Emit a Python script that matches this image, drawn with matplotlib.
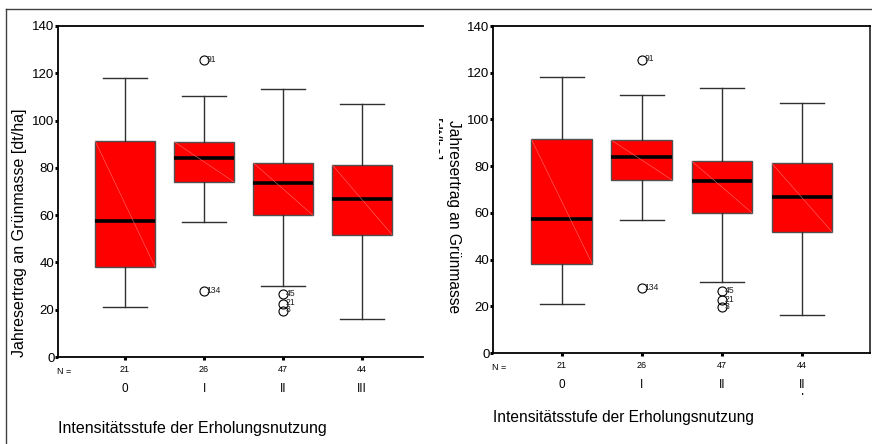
import matplotlib
matplotlib.use("Agg")
import matplotlib.pyplot as plt
from matplotlib.lines import Line2D
from matplotlib.patches import Rectangle

plt.rcParams['font.family'] = ['Liberation Sans', 'DejaVu Sans']

# Summary statistics per intensity level
groups = ["0", "I", "II", "III"]
n_counts = [21, 26, 47, 44]
whis_hi = [118.0, 110.5, 113.4, 107.1]
q3 = [91.5, 91.1, 82.2, 81.3]
medians = [57.4, 84.0, 73.5, 66.7]
q1 = [38.1, 74.0, 59.9, 51.7]
whis_lo = [21.0, 57.1, 30.2, 16.2]
outlier_vals = [[], [125.6, 27.8], [26.5, 22.6, 19.6], []]
outlier_ids = [[], ["91", "134"], ["45", "21", "3"], []]

y_ticks = [0, 20, 40, 60, 80, 100, 120, 140]
ylabel = "Jahresertrag an Grünmasse [dt/ha]"
xlabel = "Intensitätsstufe der Erholungsnutzung"

W, H = 872, 444
fig = plt.figure(figsize=(W / 100, H / 100), dpi=100)


def fx(px):
    return px / W


def fy(py):
    return 1 - py / H


def make_axes(left, top, right, bottom):
    return fig.add_axes([fx(left), fy(bottom), fx(right - left), (bottom - top) / H])


def draw_panel(ax, xlim, frame_right, last_label=None):
    pos = [1, 2, 3, 4]
    stats = []
    for i in range(4):
        stats.append(dict(med=medians[i], q1=q1[i], q3=q3[i],
                          whislo=whis_lo[i], whishi=whis_hi[i],
                          fliers=outlier_vals[i]))
    ax.bxp(stats, positions=pos, widths=0.76, patch_artist=True,
           showfliers=True,
           boxprops=dict(facecolor="#ff0000", edgecolor="#505050", linewidth=1.0),
           medianprops=dict(color="black", linewidth=2.6, solid_capstyle="butt"),
           whiskerprops=dict(color="#303030", linewidth=1.0),
           capprops=dict(color="#303030", linewidth=1.0),
           capwidths=0.55,
           flierprops=dict(marker="o", markersize=6.5, markerfacecolor="none",
                           markeredgecolor="black", markeredgewidth=0.8))
    # faint diagonal seams inside the filled boxes
    for i, p in enumerate(pos):
        ax.plot([p - 0.38, p + 0.38], [q3[i], q1[i]], color="#ff7a7a",
                linewidth=0.35, zorder=2.5)
    # outlier case numbers
    for i, p in enumerate(pos):
        for v, lab in zip(outlier_vals[i], outlier_ids[i]):
            ax.annotate(lab, (p, v), xytext=(2.0, 0.5), textcoords="offset points",
                        fontsize=6.2, va="center", ha="left", color="#202020")

    ax.set_xlim(*xlim)
    ax.set_ylim(0, 140)
    ax.set_yticks(y_ticks)
    ax.tick_params(axis="y", direction="out", length=2, width=2.2, pad=0.5,
                   labelsize=9.5, colors="black")
    ax.set_xticks(pos, [str(n) for n in n_counts])
    ax.tick_params(axis="x", direction="out", length=2, width=2.2, pad=4,
                   labelsize=6.5)
    for s in ["left", "bottom", "top"]:
        ax.spines[s].set_linewidth(1.3)
        ax.spines[s].set_color("black")
    ax.spines["right"].set_visible(frame_right)
    ax.spines["right"].set_linewidth(1.3)
    ax.spines["right"].set_color("#303030")
    ax.annotate("N =", (xlim[0], 0), xycoords=("data", "axes fraction"),
                xytext=(-1, -10.5), textcoords="offset points",
                fontsize=6.5, ha="left", va="center")
    for i, p in enumerate(pos):
        txt = groups[i]
        if last_label is not None and i == 3:
            txt = last_label
        ax.annotate(txt, (p, 0), xycoords=("data", "axes fraction"),
                    xytext=(0, -23), textcoords="offset points",
                    fontsize=8.5, ha="center", va="center")


# outer frame of the left panel
fig.add_artist(Line2D([fx(6), 1.0], [fy(9.5), fy(9.5)], color="#404040", linewidth=1.0))
fig.add_artist(Line2D([fx(6), fx(6)], [fy(9.5), 0], color="#404040", linewidth=1.0))

# left panel
ax1 = make_axes(58, 26, 423, 357)
draw_panel(ax1, (0.152, 4.77), frame_right=False)
fig.text(fx(20), fy(357), ylabel, rotation=90, ha="center", va="bottom", fontsize=11.5)
fig.text(fx(58), fy(428), xlabel, ha="left", va="center", fontsize=11.5)

# right panel
ax2 = make_axes(493, 26, 870, 353)
draw_panel(ax2, (0.14, 4.85), frame_right=True, last_label="II")
fig.text(fx(453), fy(120), "Jahresertrag an Grünmasse", rotation=-90,
         ha="center", va="top", fontsize=11.2)
# second label line and wrapped tick character, cut off at the panel edges
fig.text(fx(433), fy(118), "[dt/ha]", rotation=-90, ha="center", va="top",
         fontsize=11.2, zorder=3)
fig.text(fx(802), fy(399), "I", ha="center", va="center", fontsize=8.5, zorder=3)
fig.add_artist(Rectangle((fx(424), fy(180)), fx(439 - 424), (180 - 100) / H,
                         transform=fig.transFigure, facecolor="white",
                         edgecolor="none", zorder=4))
fig.add_artist(Rectangle((fx(790), fy(410)), fx(24), (410 - 394.5) / H,
                         transform=fig.transFigure, facecolor="white",
                         edgecolor="none", zorder=4))
fig.text(fx(493), fy(417), xlabel, ha="left", va="center", fontsize=11.2)

fig.savefig("out.png", dpi=100)
